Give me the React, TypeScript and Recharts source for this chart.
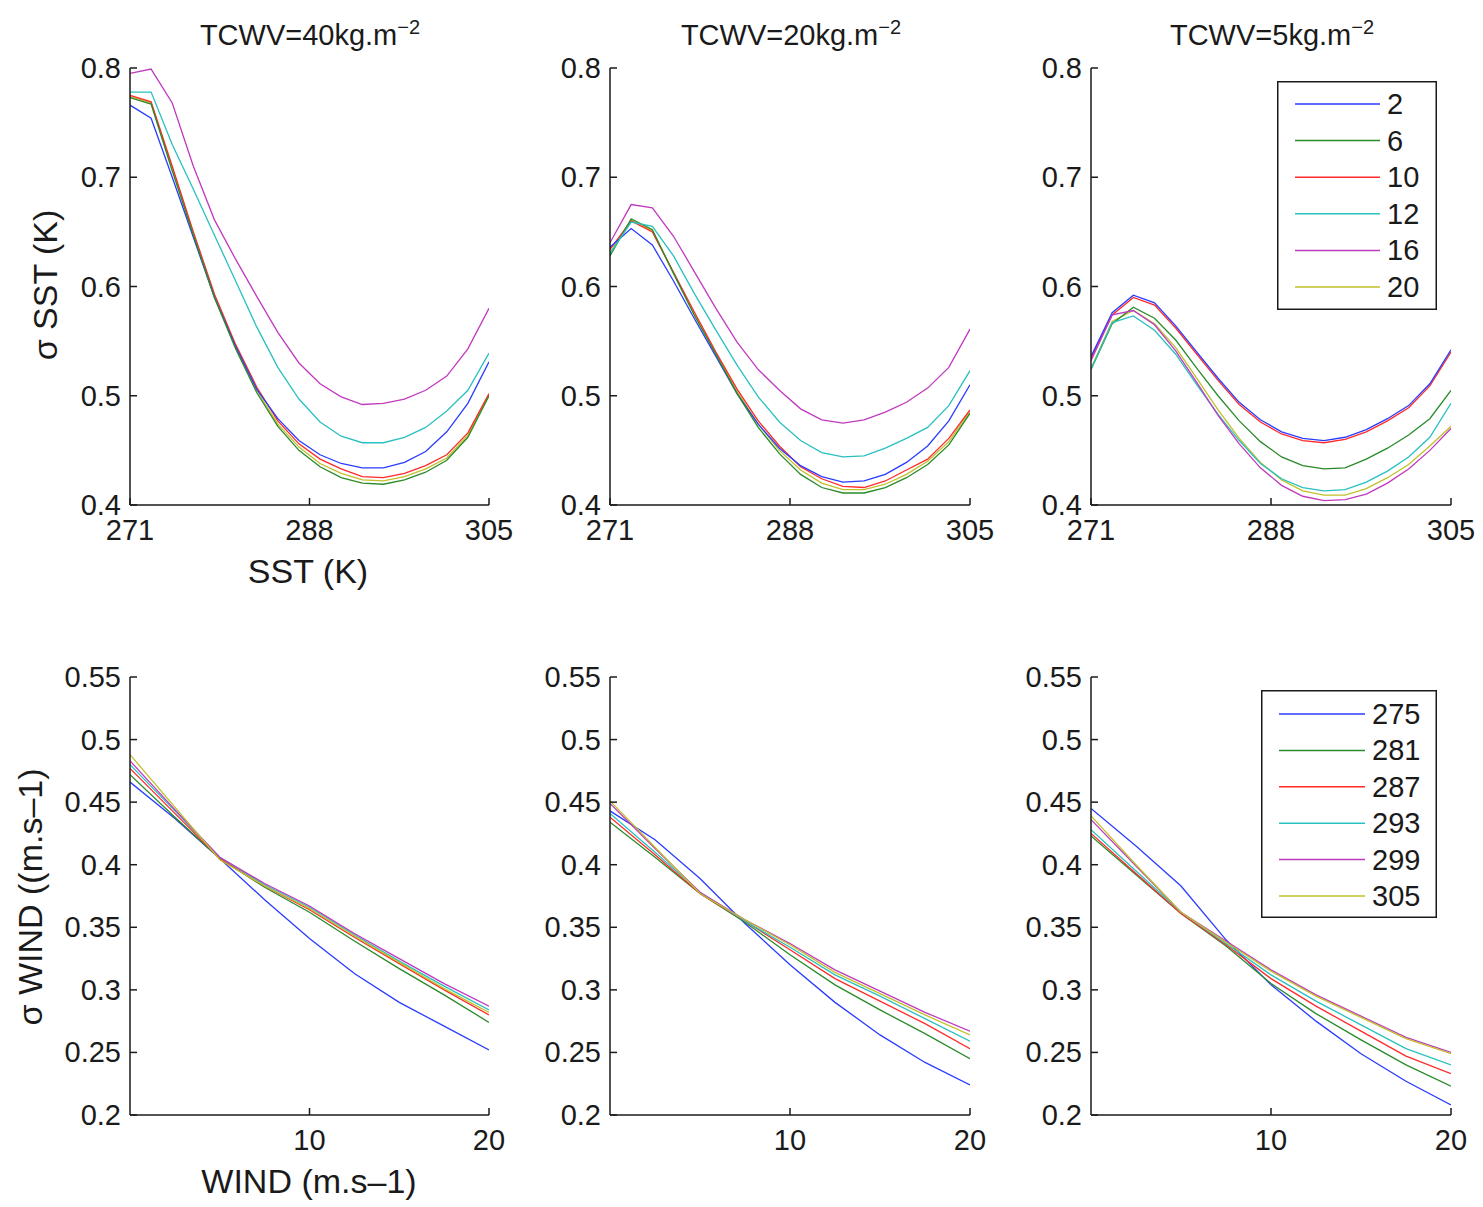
import React from "react";
import { LineChart, Line, XAxis, YAxis, Legend } from "recharts";

const FONT = '"Liberation Sans", Arial, Helvetica, sans-serif';
const INK = "#1a1a1a";

// x values
const sstValues = [271, 273, 275, 277, 279, 281, 283, 285, 287, 289, 291, 293, 295, 297, 299, 301, 303, 305];
const windValues = [0, 2.5, 5, 7.5, 10, 12.5, 15, 17.5, 20];

// legend labels
const windLabels = ["2", "6", "10", "12", "16", "20"];
const sstLabels = ["275", "281", "287", "293", "299", "305"];
const seriesColors = ["#2a3cff", "#2a8a2a", "#ff2a2a", "#2ac0c0", "#c03ac0", "#c0c02a"];

// ticks
const sstTicks = [271, 288, 305];
const windTicks = [10, 20];
const sigmaSstTicks = [0.4, 0.5, 0.6, 0.7, 0.8];
const sigmaWindTicks = [0.2, 0.25, 0.3, 0.35, 0.4, 0.45, 0.5, 0.55];

// sigma SST vs SST, one row per wind speed (2, 6, 10, 12, 16, 20)
const tcwv40Sst = [
  [0.766, 0.754, 0.700, 0.645, 0.590, 0.545, 0.506, 0.479, 0.459, 0.446, 0.438, 0.434, 0.434, 0.439, 0.449, 0.467, 0.493, 0.531],
  [0.773, 0.767, 0.706, 0.647, 0.590, 0.543, 0.503, 0.472, 0.450, 0.435, 0.425, 0.420, 0.419, 0.423, 0.430, 0.441, 0.462, 0.500],
  [0.775, 0.769, 0.710, 0.650, 0.593, 0.547, 0.508, 0.477, 0.456, 0.442, 0.433, 0.426, 0.425, 0.429, 0.436, 0.446, 0.466, 0.502],
  [0.778, 0.778, 0.730, 0.689, 0.647, 0.605, 0.563, 0.526, 0.497, 0.476, 0.463, 0.457, 0.457, 0.462, 0.471, 0.486, 0.505, 0.539],
  [0.795, 0.799, 0.768, 0.710, 0.661, 0.625, 0.591, 0.558, 0.530, 0.511, 0.499, 0.492, 0.493, 0.497, 0.505, 0.518, 0.543, 0.580],
  [0.774, 0.768, 0.708, 0.648, 0.591, 0.545, 0.505, 0.474, 0.453, 0.438, 0.429, 0.423, 0.422, 0.426, 0.433, 0.443, 0.464, 0.501],
];
const tcwv20Sst = [
  [0.636, 0.653, 0.638, 0.605, 0.570, 0.536, 0.502, 0.474, 0.452, 0.436, 0.426, 0.421, 0.422, 0.428, 0.439, 0.454, 0.477, 0.510],
  [0.628, 0.662, 0.652, 0.612, 0.573, 0.538, 0.502, 0.471, 0.447, 0.428, 0.416, 0.411, 0.411, 0.416, 0.425, 0.437, 0.455, 0.484],
  [0.634, 0.660, 0.650, 0.613, 0.576, 0.540, 0.506, 0.477, 0.454, 0.435, 0.424, 0.417, 0.416, 0.422, 0.432, 0.442, 0.461, 0.487],
  [0.630, 0.659, 0.655, 0.628, 0.593, 0.560, 0.528, 0.499, 0.476, 0.459, 0.448, 0.444, 0.445, 0.452, 0.461, 0.471, 0.491, 0.523],
  [0.640, 0.675, 0.672, 0.646, 0.613, 0.580, 0.549, 0.524, 0.505, 0.488, 0.478, 0.475, 0.478, 0.485, 0.494, 0.507, 0.526, 0.561],
  [0.631, 0.661, 0.651, 0.612, 0.574, 0.539, 0.504, 0.474, 0.450, 0.432, 0.420, 0.414, 0.414, 0.419, 0.428, 0.440, 0.458, 0.486],
];
const tcwv5Sst = [
  [0.536, 0.576, 0.592, 0.585, 0.564, 0.540, 0.516, 0.494, 0.478, 0.467, 0.461, 0.459, 0.462, 0.469, 0.479, 0.491, 0.511, 0.542],
  [0.524, 0.566, 0.581, 0.571, 0.551, 0.525, 0.500, 0.477, 0.458, 0.444, 0.436, 0.433, 0.434, 0.442, 0.452, 0.464, 0.479, 0.505],
  [0.534, 0.574, 0.590, 0.583, 0.562, 0.538, 0.514, 0.492, 0.476, 0.465, 0.459, 0.457, 0.460, 0.467, 0.477, 0.489, 0.509, 0.540],
  [0.524, 0.567, 0.573, 0.560, 0.538, 0.510, 0.483, 0.459, 0.438, 0.424, 0.416, 0.413, 0.414, 0.421, 0.431, 0.444, 0.462, 0.493],
  [0.532, 0.574, 0.578, 0.565, 0.541, 0.512, 0.482, 0.456, 0.434, 0.418, 0.408, 0.404, 0.405, 0.410, 0.420, 0.433, 0.450, 0.470],
  [0.525, 0.568, 0.578, 0.566, 0.544, 0.516, 0.487, 0.461, 0.439, 0.423, 0.413, 0.409, 0.409, 0.415, 0.425, 0.437, 0.454, 0.472],
];

// sigma WIND vs WIND, one row per SST (275, 281, 287, 293, 299, 305)
const tcwv40Wind = [
  [0.466, 0.437, 0.405, 0.372, 0.341, 0.313, 0.290, 0.271, 0.252],
  [0.472, 0.438, 0.405, 0.382, 0.362, 0.339, 0.317, 0.296, 0.274],
  [0.477, 0.441, 0.405, 0.383, 0.364, 0.342, 0.321, 0.300, 0.280],
  [0.480, 0.443, 0.406, 0.384, 0.366, 0.344, 0.323, 0.303, 0.284],
  [0.483, 0.444, 0.406, 0.385, 0.367, 0.345, 0.325, 0.305, 0.287],
  [0.488, 0.446, 0.404, 0.383, 0.365, 0.343, 0.322, 0.301, 0.282],
];
const tcwv20Wind = [
  [0.443, 0.420, 0.389, 0.353, 0.320, 0.290, 0.264, 0.242, 0.224],
  [0.434, 0.406, 0.377, 0.354, 0.328, 0.304, 0.284, 0.265, 0.245],
  [0.438, 0.408, 0.377, 0.355, 0.332, 0.309, 0.291, 0.273, 0.253],
  [0.441, 0.410, 0.378, 0.355, 0.334, 0.312, 0.295, 0.277, 0.259],
  [0.449, 0.413, 0.378, 0.356, 0.337, 0.316, 0.299, 0.282, 0.267],
  [0.451, 0.414, 0.377, 0.356, 0.336, 0.314, 0.297, 0.280, 0.264],
];
const tcwv5Wind = [
  [0.445, 0.415, 0.383, 0.340, 0.304, 0.275, 0.249, 0.227, 0.208],
  [0.423, 0.392, 0.361, 0.335, 0.305, 0.281, 0.260, 0.240, 0.223],
  [0.425, 0.393, 0.361, 0.336, 0.309, 0.287, 0.267, 0.247, 0.233],
  [0.428, 0.395, 0.362, 0.337, 0.312, 0.291, 0.272, 0.253, 0.240],
  [0.436, 0.399, 0.362, 0.339, 0.316, 0.296, 0.279, 0.262, 0.250],
  [0.439, 0.400, 0.362, 0.338, 0.315, 0.295, 0.278, 0.261, 0.249],
];

type Row = { [key: string]: number };

function buildRows(xs: number[], series: number[][]): Row[] {
  return xs.map((x, i) => {
    const row: Row = { x };
    series.forEach((s, k) => {
      row["s" + k] = s[i];
    });
    return row;
  });
}

const Y_AXIS_W = 80;
const X_AXIS_H = 50;
const MARGIN = { top: 24, right: 30, bottom: 0, left: 0 };
const TICK_FONT = 29;

function YTick(props: any) {
  const { x, y, payload } = props;
  return (
    <g>
      <line x1={x} x2={x + 7} y1={y} y2={y} stroke={INK} strokeWidth={1.5} />
      <text x={x - 9} y={y + 10} textAnchor="end" fontSize={TICK_FONT} fontFamily={FONT} fill={INK}>
        {String(payload.value)}
      </text>
    </g>
  );
}

function XTick(props: any) {
  const { x, y, payload } = props;
  return (
    <g>
      <line x1={x} x2={x} y1={y} y2={y - 7} stroke={INK} strokeWidth={1.5} />
      <text x={x} y={y + 35} textAnchor="middle" fontSize={TICK_FONT} fontFamily={FONT} fill={INK}>
        {String(payload.value)}
      </text>
    </g>
  );
}

interface LegendSpec {
  labels: string[];
  left: number;
  top: number;
  width: number;
  height: number;
  rowStart: number;
  rowStep: number;
  lineEnd: number;
}

function LegendBox({ spec }: { spec: LegendSpec }) {
  return (
    <svg width={spec.width} height={spec.height} style={{ display: "block" }}>
      <rect
        x={0.75}
        y={0.75}
        width={spec.width - 1.5}
        height={spec.height - 1.5}
        fill="#fff"
        stroke={INK}
        strokeWidth={1.5}
      />
      {spec.labels.map((label, i) => {
        const cy = spec.rowStart + i * spec.rowStep;
        return (
          <g key={label}>
            <line x1={18} x2={spec.lineEnd} y1={cy} y2={cy} stroke={seriesColors[i]} strokeWidth={1.5} />
            <text x={spec.lineEnd + 7} y={cy + 10} fontSize={TICK_FONT} fontFamily={FONT} fill={INK}>
              {label}
            </text>
          </g>
        );
      })}
    </svg>
  );
}

interface PanelProps {
  plotLeft: number;
  plotTop: number;
  plotW: number;
  plotH: number;
  rows: Row[];
  xDomain: [number, number];
  xTicks: number[];
  yDomain: [number, number];
  yTicks: number[];
  order: number[];
  legend?: LegendSpec;
}

function Panel(p: PanelProps) {
  const width = Y_AXIS_W + p.plotW + MARGIN.right;
  const height = MARGIN.top + p.plotH + X_AXIS_H;
  const left = p.plotLeft - Y_AXIS_W;
  const top = p.plotTop - MARGIN.top;
  return (
    <div style={{ position: "absolute", left, top, width, height }}>
      <LineChart width={width} height={height} data={p.rows} margin={MARGIN}>
        <XAxis
          dataKey="x"
          type="number"
          domain={p.xDomain}
          ticks={p.xTicks}
          interval={0}
          height={X_AXIS_H}
          tickSize={0}
          tickMargin={0}
          tickLine={false}
          axisLine={{ stroke: INK, strokeWidth: 1.5 }}
          tick={(t: any) => <XTick {...t} />}
          allowDataOverflow
        />
        <YAxis
          type="number"
          domain={p.yDomain}
          ticks={p.yTicks}
          interval={0}
          width={Y_AXIS_W}
          tickSize={0}
          tickMargin={0}
          tickLine={false}
          axisLine={{ stroke: INK, strokeWidth: 1.5 }}
          tick={(t: any) => <YTick {...t} />}
          allowDataOverflow
        />
        {p.order.map((k) => (
          <Line
            key={k}
            type="linear"
            dataKey={"s" + k}
            stroke={seriesColors[k]}
            strokeWidth={1.3}
            dot={false}
            activeDot={false}
            isAnimationActive={false}
          />
        ))}
        {p.legend && (
          <Legend
            layout="horizontal"
            verticalAlign="middle"
            align="center"
            wrapperStyle={{
              left: p.legend.left - left,
              top: p.legend.top - top,
              width: p.legend.width,
              height: p.legend.height,
            }}
            content={() => <LegendBox spec={p.legend as LegendSpec} />}
          />
        )}
      </LineChart>
    </div>
  );
}

const sstOrder = [5, 2, 0, 1, 3, 4];
const windOrder = [0, 1, 2, 3, 4, 5];

export default function App() {
  const sstLegend: LegendSpec = {
    labels: windLabels,
    left: 1277,
    top: 81,
    width: 160,
    height: 229,
    rowStart: 23,
    rowStep: 36.6,
    lineEnd: 103,
  };
  const windLegend: LegendSpec = {
    labels: sstLabels,
    left: 1261,
    top: 690,
    width: 176,
    height: 228,
    rowStart: 24,
    rowStep: 36.4,
    lineEnd: 104,
  };

  const topCommon = {
    plotTop: 68,
    plotH: 437,
    xDomain: [271, 305] as [number, number],
    xTicks: sstTicks,
    yDomain: [0.4, 0.8] as [number, number],
    yTicks: sigmaSstTicks,
    order: sstOrder,
  };
  const bottomCommon = {
    plotTop: 677,
    plotH: 438,
    xDomain: [0, 20] as [number, number],
    xTicks: windTicks,
    yDomain: [0.2, 0.55] as [number, number],
    yTicks: sigmaWindTicks,
    order: windOrder,
  };

  return (
    <div
      style={{
        position: "absolute",
        left: 0,
        top: 0,
        width: 1483,
        height: 1207,
        background: "#fff",
        overflow: "hidden",
        fontFamily: FONT,
      }}
    >
      <Panel {...topCommon} plotLeft={130} plotW={359} rows={buildRows(sstValues, tcwv40Sst)} />
      <Panel {...topCommon} plotLeft={610} plotW={360} rows={buildRows(sstValues, tcwv20Sst)} />
      <Panel {...topCommon} plotLeft={1091} plotW={360} rows={buildRows(sstValues, tcwv5Sst)} legend={sstLegend} />
      <Panel {...bottomCommon} plotLeft={130} plotW={359} rows={buildRows(windValues, tcwv40Wind)} />
      <Panel {...bottomCommon} plotLeft={610} plotW={360} rows={buildRows(windValues, tcwv20Wind)} />
      <Panel {...bottomCommon} plotLeft={1091} plotW={360} rows={buildRows(windValues, tcwv5Wind)} legend={windLegend} />

      <svg
        width={1483}
        height={1207}
        style={{ position: "absolute", left: 0, top: 0, pointerEvents: "none" }}
        fontFamily={FONT}
        fill={INK}
      >
        <text x={310} y={45} textAnchor="middle" fontSize={29}>
          TCWV=40kg.m<tspan dy={-11} fontSize={20}>−2</tspan>
        </text>
        <text x={791} y={45} textAnchor="middle" fontSize={29}>
          TCWV=20kg.m<tspan dy={-11} fontSize={20}>−2</tspan>
        </text>
        <text x={1272} y={45} textAnchor="middle" fontSize={29}>
          TCWV=5kg.m<tspan dy={-11} fontSize={20}>−2</tspan>
        </text>
        <text x={308} y={583} textAnchor="middle" fontSize={34}>
          SST (K)
        </text>
        <text x={309} y={1193} textAnchor="middle" fontSize={34}>
          WIND (m.s–1)
        </text>
        <text transform="translate(57,285) rotate(-90)" textAnchor="middle" fontSize={34}>
          σ SST (K)
        </text>
        <text transform="translate(42,897) rotate(-90)" textAnchor="middle" fontSize={34}>
          σ WIND ((m.s–1)
        </text>
      </svg>
    </div>
  );
}
